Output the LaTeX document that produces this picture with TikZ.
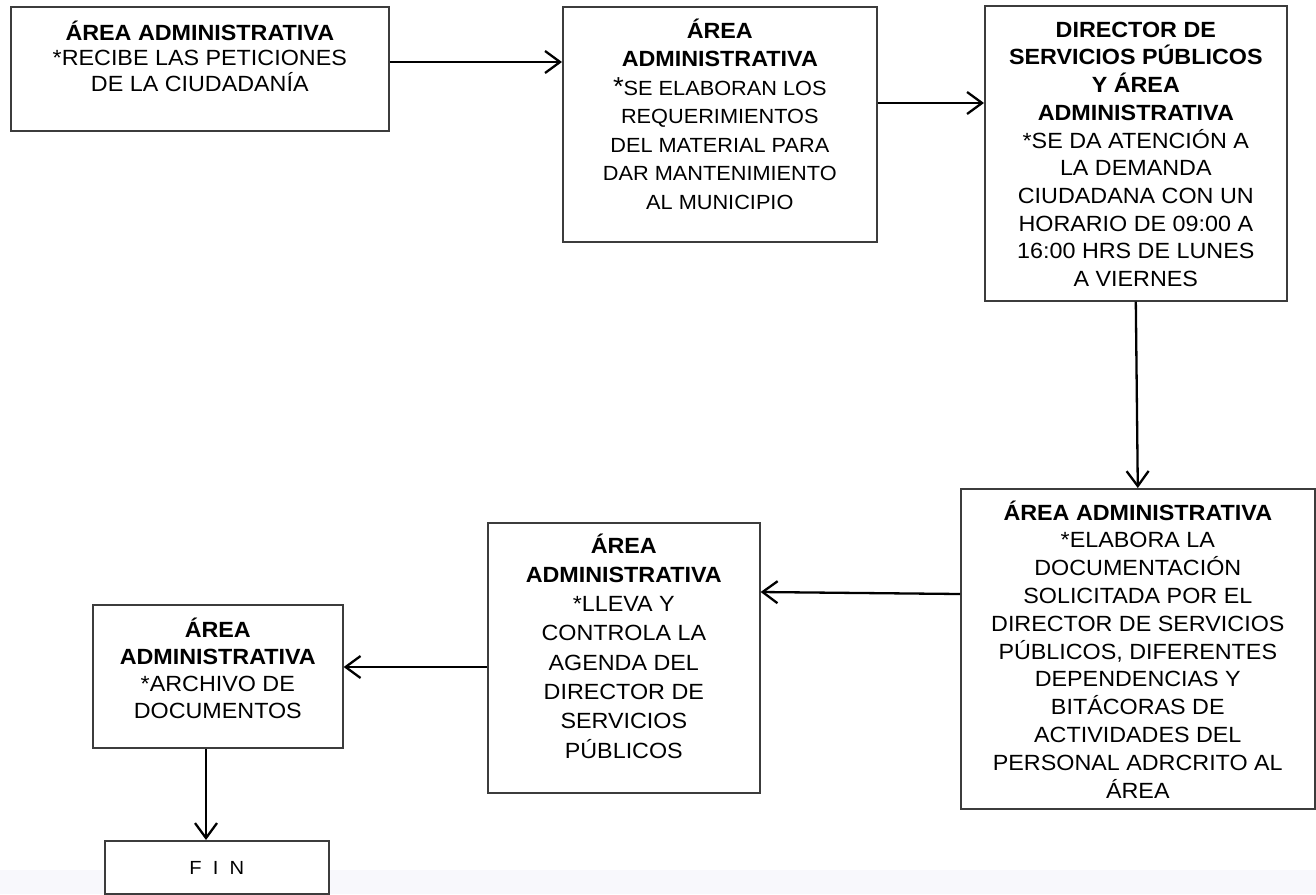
\documentclass[tikz,border=0pt]{standalone}
\usepackage{fontspec}
\setmainfont{Liberation Sans}[FakeStretch=1.06]
\usetikzlibrary{arrows.meta}
\definecolor{edge}{RGB}{60,60,60}
\definecolor{band}{RGB}{248,248,252}
\newcommand\lines[3]{{\fontsize{#1}{#2}\selectfont\begin{tabular}[t]{@{}c@{}}#3\end{tabular}}}
\begin{document}
\begin{tikzpicture}[x=1pt,y=-1pt,
  stepbox/.style={draw=edge, line width=1.6pt, inner sep=0pt, anchor=north west},
  boxtext/.style={inner sep=0pt, anchor=base},
  flow/.style={line width=2.3pt, -{Straight Barb[length=15pt,width=22pt,line width=2.3pt]}}]
\useasboundingbox (0,0) rectangle (1316,894);
\clip (0,0) rectangle (1316,894);
\fill[white] (0,0) rectangle (1316,894);
\fill[band] (0,870) rectangle (1316,894);

% boxes
\node[stepbox, minimum width=378pt, minimum height=124pt] (b1) at (10,6) {};
\node[stepbox, minimum width=314pt, minimum height=235pt] (b2) at (562,6) {};
\node[stepbox, minimum width=302pt, minimum height=295pt] (b3) at (984,5) {};
\node[stepbox, minimum width=354pt, minimum height=320pt] (b4) at (960,488) {};
\node[stepbox, minimum width=272pt, minimum height=270pt] (b5) at (487,522) {};
\node[stepbox, minimum width=250pt, minimum height=143pt] (b6) at (92,604) {};
\node[stepbox, fill=white, minimum width=224pt, minimum height=53pt] (fin) at (104,840) {};

% texts
\node[boxtext] (t1) at (b1.north |- 0,40) {\lines{22}{25}{\textbf{ÁREA ADMINISTRATIVA}\\
  {*}RECIBE LAS PETICIONES\\ DE LA CIUDADANÍA}};
\node[boxtext] (t2) at (b2.north |- 0,38) {\lines{20.5}{28.5}{\textbf{\fontsize{22}{28.5}\selectfont ÁREA}\\
  \textbf{\fontsize{22}{28.5}\selectfont ADMINISTRATIVA}\\
  {\fontsize{26}{28.5}\selectfont*}SE ELABORAN LOS\\ REQUERIMIENTOS\\ DEL MATERIAL PARA\\
  DAR MANTENIMIENTO\\ AL MUNICIPIO}};
\node[boxtext] (t3) at (b3.north |- 0,37) {\lines{22}{27.7}{\textbf{DIRECTOR DE}\\
  \textbf{SERVICIOS PÚBLICOS}\\ \textbf{Y ÁREA}\\ \textbf{ADMINISTRATIVA}\\
  {*}SE DA ATENCIÓN A\\ LA DEMANDA\\ CIUDADANA CON UN\\ HORARIO DE 09:00 A\\
  16:00 HRS DE LUNES\\ A VIERNES}};
\node[boxtext] (t4) at (b4.north |- 0,520) {\lines{22}{27.8}{\textbf{ÁREA ADMINISTRATIVA}\\
  {*}ELABORA LA\\ DOCUMENTACIÓN\\ SOLICITADA POR EL\\ DIRECTOR DE SERVICIOS\\
  PÚBLICOS, DIFERENTES\\ DEPENDENCIAS Y\\ BITÁCORAS DE\\ ACTIVIDADES DEL\\
  PERSONAL ADRCRITO AL\\ ÁREA}};
\node[boxtext] (t5) at (b5.north |- 0,553) {\lines{22}{29.3}{\textbf{ÁREA}\\
  \textbf{ADMINISTRATIVA}\\ {*}LLEVA Y\\ CONTROLA LA\\ AGENDA DEL\\ DIRECTOR DE\\
  SERVICIOS\\ PÚBLICOS}};
\node[boxtext] (t6) at (b6.north |- 0,637) {\lines{22}{27.3}{\textbf{ÁREA}\\
  \textbf{ADMINISTRATIVA}\\ {*}ARCHIVO DE\\ DOCUMENTOS}};
\node[boxtext] (t7) at (fin.north |- 0,874) {\lines{19}{20}{F\ \ I\ \ N}};

% connectors
\draw[flow] (b1.east |- 0,62) -- (b2.west |- 0,62);
\draw[flow] (b2.east |- 0,103) -- (b3.west |- 0,103);
\draw[flow] (b3.south) -- (b4.north);
\draw[flow] (b4.west |- 0,594) -- (b5.east |- 0,592);
\draw[flow] (b5.west |- 0,667) -- (b6.east |- 0,667);
\draw[flow] (b6.south -| 206,0) -- (fin.north -| 206,0);
\end{tikzpicture}
\end{document}
